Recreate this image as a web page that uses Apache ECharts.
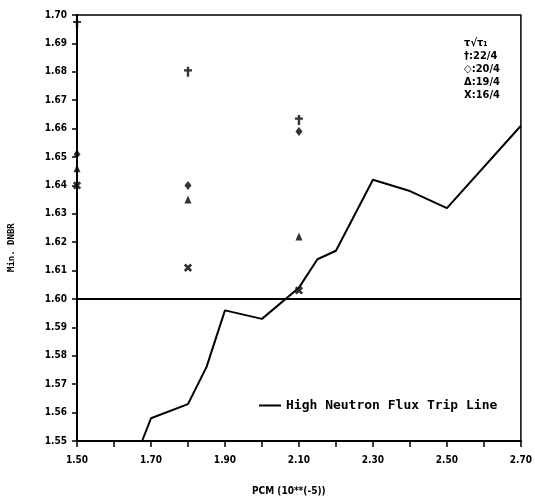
<!DOCTYPE html>
<html>
<head>
<meta charset="utf-8">
<script src="https://cdn.jsdelivr.net/npm/echarts@6/dist/echarts.min.js"></script>
<style>
  html, body { margin: 0; padding: 0; background: #fff; }
  #main { width: 535px; height: 502px; }
</style>
</head>
<body>
<div id="main"></div>
<script>
// point columns (PCM)
var pcmX = [1.50, 1.80, 2.10];
// min DNBR for each tau ratio
var tau22 = [1.697, 1.680, 1.663];
var tau20 = [1.651, 1.640, 1.659];
var tau19 = [1.646, 1.635, 1.622];
var tau16 = [1.640, 1.611, 1.603];
// high neutron flux trip line
var tripX = [1.676, 1.70, 1.80, 1.85, 1.90, 2.00, 2.10, 2.15, 2.20, 2.30, 2.40, 2.50, 2.70];
var tripY = [1.550, 1.558, 1.563, 1.576, 1.596, 1.593, 1.604, 1.614, 1.617, 1.642, 1.638, 1.632, 1.661];
var limitDNBR = 1.60;
var keyLines = ['τ√τ₁', '†:22/4', '◇:20/4', 'Δ:19/4', 'X:16/4'];

var plusPath = 'path://M3.5,0H6.5V3.5H10V6.5H6.5V10H3.5V6.5H0V3.5H3.5Z';
var daggerPath = 'path://M3.5,0H6.5V3H10V5.5H6.5V12H3.5V5.5H0V3H3.5Z';

function pairs(xs, ys) {
  return xs.map(function (x, i) { return [x, ys[i]]; });
}

var tickFont = { color: '#000', fontSize: 10, fontWeight: 'bold', fontFamily: 'DejaVu Sans Condensed' };

var chart = echarts.init(document.getElementById('main'));
var option = {
  animation: false,
  backgroundColor: '#fff',
  grid: {
    left: 77, right: 13, top: 15, bottom: 61,
    show: true, borderColor: '#000', borderWidth: 1.5
  },
  legend: {
    data: [{ name: 'High Neutron Flux Trip Line', icon: 'rect' }],
    left: 254, top: 394,
    itemWidth: 22, itemHeight: 2, itemGap: 6,
    itemStyle: { color: '#000' },
    textStyle: { color: '#000', fontSize: 13, fontWeight: 'bold', fontFamily: 'DejaVu Sans Mono' }
  },
  xAxis: {
    type: 'value', min: 1.5, max: 2.7, interval: 0.1,
    axisLine: { lineStyle: { color: '#000', width: 2 } },
    axisTick: { inside: false, length: 6, lineStyle: { color: '#000', width: 1.5 } },
    splitLine: { show: false },
    axisLabel: Object.assign({
      margin: 14,
      formatter: function (v) {
        return Math.round(v * 100) % 20 === 10 ? v.toFixed(2) : '';
      }
    }, tickFont)
  },
  yAxis: {
    type: 'value', min: 1.55, max: 1.70, interval: 0.01,
    axisLine: { lineStyle: { color: '#000', width: 2 } },
    axisTick: { inside: false, length: 5, lineStyle: { color: '#000', width: 1.5 } },
    splitLine: { show: false },
    axisLabel: Object.assign({
      margin: 10,
      formatter: function (v) { return v.toFixed(2); }
    }, tickFont)
  },
  graphic: [
    {
      type: 'text', left: 252, top: 486,
      style: { text: 'PCM (10**(-5))', fill: '#000', font: 'bold 10px "DejaVu Sans Condensed"' }
    },
    {
      type: 'text', x: 7, y: 272, rotation: Math.PI / 2,
      style: { text: 'Min. DNBR', fill: '#000', font: 'bold 9px "DejaVu Sans Mono"' }
    },
    {
      type: 'text', right: 35, top: 37,
      style: {
        text: keyLines.join('\n'), fill: '#000', align: 'right', lineHeight: 13,
        font: 'bold 11px "DejaVu Sans Condensed"'
      }
    }
  ],
  series: [
    {
      name: 'High Neutron Flux Trip Line',
      type: 'line',
      data: pairs(tripX, tripY),
      symbol: 'none',
      lineStyle: { color: '#000', width: 2 },
      itemStyle: { color: '#000' },
      markLine: {
        silent: true, symbol: 'none', label: { show: false },
        lineStyle: { color: '#000', width: 2, type: 'solid' },
        data: [{ yAxis: limitDNBR }]
      }
    },
    {
      name: '22/4', type: 'scatter', clip: false,
      data: pairs(pcmX, tau22),
      symbol: daggerPath, symbolSize: [8, 10],
      itemStyle: { color: '#000' }
    },
    {
      name: '20/4', type: 'scatter', clip: false,
      data: pairs(pcmX, tau20),
      symbol: 'diamond', symbolSize: [7, 9],
      itemStyle: { color: '#000' }
    },
    {
      name: '19/4', type: 'scatter', clip: false,
      data: pairs(pcmX, tau19),
      symbol: 'triangle', symbolSize: [7, 8],
      itemStyle: { color: '#000' }
    },
    {
      name: '16/4', type: 'scatter', clip: false,
      data: pairs(pcmX, tau16),
      symbol: plusPath, symbolSize: 9, symbolRotate: 45,
      itemStyle: { color: '#000' }
    }
  ]
};
chart.setOption(option);
</script>
</body>
</html>
